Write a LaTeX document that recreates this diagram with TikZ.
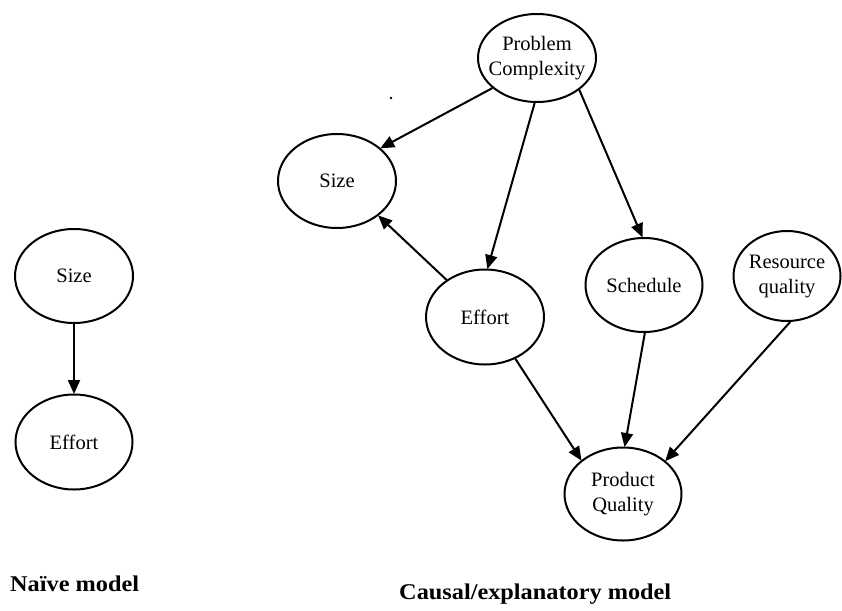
\documentclass[tikz,border=0pt]{standalone}
\usepackage{fontspec}
\setmainfont{Liberation Serif}
\usetikzlibrary{shapes.geometric,arrows.meta}
\begin{document}
\begin{tikzpicture}[x=1pt,y=-1pt,
  ell/.style={ellipse,draw,line width=2pt,inner sep=0pt},
  lbl/.style={align=center,font=\fontsize{20.5}{25}\selectfont,inner sep=0pt},
  arr/.style={line width=2pt,-{Triangle[length=14pt,width=12pt]},shorten >=-0.5pt},
  captext/.style={font=\fontsize{22.5}{26}\selectfont\bfseries,inner sep=0pt}
]
\useasboundingbox (0,0) rectangle (842,610);
% naive model
\node[ell,minimum width=118pt,minimum height=94pt] (ns) at (74,276) {};
\node[lbl] at (ns) {Size};
\node[ell,minimum width=117pt,minimum height=95pt] (ne) at (74,442) {};
\node[lbl] at (ne) {Effort};
\draw[arr] (ns.south) -- (ne.north);
% causal model
\node[ell,minimum width=118pt,minimum height=88pt] (pc) at (537,58) {};
\node[lbl] at (pc) {Problem\\Complexity};
\node[ell,minimum width=118pt,minimum height=94pt] (sz) at (337,181) {};
\node[lbl] at (sz) {Size};
\node[ell,minimum width=118pt,minimum height=95pt] (ef) at (485,317) {};
\node[lbl] at (ef) {Effort};
\node[ell,minimum width=117pt,minimum height=94pt] (sc) at (644,285) {};
\node[lbl] at (sc) {Schedule};
\node[ell,minimum width=107pt,minimum height=90pt] (rq) at (787,276) {};
\node[lbl] at (rq) {Resource\\quality};
\node[ell,minimum width=117pt,minimum height=93pt] (pq) at (623,494) {};
\node[lbl] at (pq) {Product\\Quality};
\draw[arr] (pc.214) -- (sz.37);
\draw[arr] (ef.136) -- (sz.-40);
\draw[arr] (pc.-93) -- (ef.87);
\draw[arr] (pc.-37) -- (sc.92);
\draw[arr] (ef.-54) -- (pq.141);
\draw[arr] (sc.-89) -- (pq.88);
\draw[arr] (rq.-86) -- (pq.38);
\fill (391,98) circle (1.4pt);
% captions
\node[captext,anchor=base west] (c1) at (10,591) {\scalebox{1.08}[1]{Naïve model}};
\node[captext,anchor=base west] (c2) at (399,599) {\scalebox{1.08}[1]{Causal/explanatory model}};
\end{tikzpicture}
\end{document}
